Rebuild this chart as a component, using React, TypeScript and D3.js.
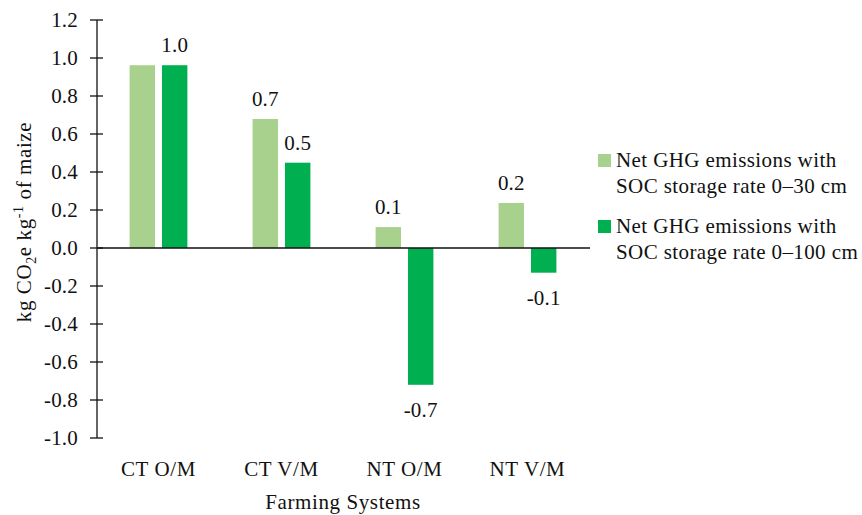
import React from "react";
import * as d3 from "d3";

const categories = ["CT O/M", "CT V/M", "NT O/M", "NT V/M"];
const seriesNames = [
  ["Net GHG emissions with", "SOC storage rate 0\u201330 cm"],
  ["Net GHG emissions with", "SOC storage rate 0\u2013100 cm"],
];
const soc30 = [0.962, 0.679, 0.11, 0.237];
const soc100 = [0.962, 0.449, -0.72, -0.13];
const labels30 = ["", "0.7", "0.1", "0.2"];
const labels100 = ["1.0", "0.5", "-0.7", "-0.1"];
const yTicks = [1.2, 1.0, 0.8, 0.6, 0.4, 0.2, 0.0, -0.2, -0.4, -0.6, -0.8, -1.0];
const colors = ["#A9D18E", "#00B050"];

const FONT = "'Liberation Serif', serif";

export default function App() {
  const W = 862, H = 515;
  const x0 = 97, x1 = 589;
  const y = d3.scaleLinear().domain([-1.0, 1.2]).range([438, 20]);
  const xb = d3.scaleBand().domain(categories).range([x0, x1]).paddingInner(0.53).paddingOuter(0.265);
  const xs = d3.scaleBand().domain(["a", "b"]).range([0, xb.bandwidth()]).paddingInner(0.215);
  const fmt = (v: number) => d3.format(".1f")(v).replace("\u2212", "-");
  const series = [soc30, soc100];
  const lbls = [labels30, labels100];
  const fs = 21;
  return (
    <svg width={W} height={H} style={{ position: "absolute", left: 0, top: 0, background: "#fff" }} fontFamily={FONT}>
      <rect width={W} height={H} fill="#fff" />
      {series.map((vals, si) =>
        vals.map((v, i) => {
          const bx = (xb(categories[i]) as number) + (xs(si === 0 ? "a" : "b") as number);
          const top = y(Math.max(0, v));
          const h = Math.abs(y(v) - y(0));
          const lab = lbls[si][i];
          const ly = v >= 0 ? y(v) - 13 : y(v) + 32;
          return (
            <g key={`${si}-${i}`}>
              <rect x={bx} y={top} width={xs.bandwidth()} height={h} fill={colors[si]} />
              {lab && (
                <text x={bx + xs.bandwidth() / 2} y={ly} textAnchor="middle" fontSize={fs} fill="#111" letterSpacing={0.2}>
                  {lab}
                </text>
              )}
            </g>
          );
        })
      )}
      <line x1={x0} x2={x1 + 1} y1={y(0)} y2={y(0)} stroke="#111" strokeWidth={1.3} />
      <line x1={x0} x2={x0} y1={y(1.2)} y2={y(-1.0)} stroke="#111" strokeWidth={1.3} />
      {yTicks.map((t) => (
        <g key={t}>
          <line x1={x0 - 7} x2={x0 + 6} y1={y(t)} y2={y(t)} stroke="#111" strokeWidth={1.3} />
          <text x={78} y={y(t)} dy="0.35em" textAnchor="end" fontSize={fs} fill="#111" letterSpacing={0.2}>
            {fmt(t)}
          </text>
        </g>
      ))}
      {categories.map((c) => (
        <text key={c} x={(xb(c) as number) + xb.bandwidth() / 2} y={476} textAnchor="middle" fontSize={fs} fill="#111" letterSpacing={0.6}>
          {c}
        </text>
      ))}
      <text x={(x0 + x1) / 2} y={509} textAnchor="middle" fontSize={fs} fill="#111" letterSpacing={0.6}>
        Farming Systems
      </text>
      <text transform={`translate(31,222) rotate(-90)`} textAnchor="middle" fontSize={fs} fill="#111" letterSpacing={0.6}>
        kg CO<tspan fontSize={14} dy={5}>2</tspan>
        <tspan dy={-5}>e kg</tspan>
        <tspan fontSize={14} dy={-8}>-1</tspan>
        <tspan dy={8}> of maize</tspan>
      </text>
      {seriesNames.map((lines, si) => {
        const by = 167 + si * 66;
        return (
          <g key={si}>
            <rect x={598} y={by - 13} width={13} height={13} fill={colors[si]} />
            {lines.map((l, li) => (
              <text key={li} x={616} y={by + li * 26} fontSize={fs} fill="#111" letterSpacing={0.4}>
                {l}
              </text>
            ))}
          </g>
        );
      })}
    </svg>
  );
}
